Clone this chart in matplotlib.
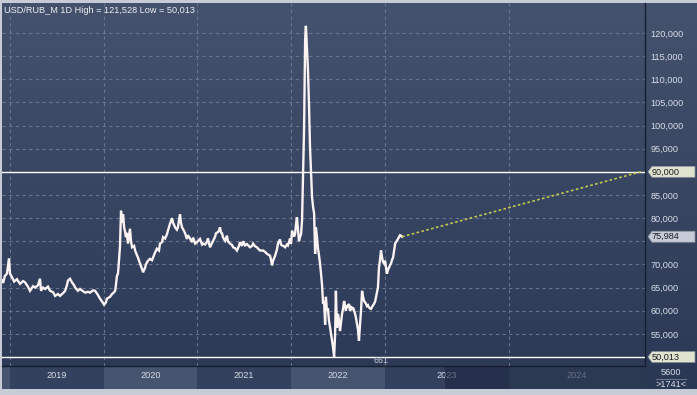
import numpy as np
import matplotlib
matplotlib.use("Agg")
import matplotlib.pyplot as plt
from matplotlib.patches import Polygon
from matplotlib.transforms import IdentityTransform
from matplotlib.colors import LinearSegmentedColormap

plt.rcParams['font.family'] = ['Liberation Sans', 'DejaVu Sans']

# ---------------- data ----------------
title_text = "USD/RUB_M 1D High = 121,528 Low = 50,013"
# days since 2019-01-01
day_offsets = [
    -31, -27, -20, -12, -4, 0, 8, 16, 27, 39, 51, 59, 70, 78, 90, 98, 109, 117, 121, 129,
    137, 148, 156, 168, 176, 187, 195, 207, 215, 222, 226, 234, 242, 250, 254, 265, 273, 285, 293, 304,
    312, 324, 332, 343, 351, 359, 367, 374, 378, 390, 398, 406, 410, 413, 417, 421, 425, 429, 433, 437,
    441, 445, 449, 452, 456, 460, 468, 472, 476, 484, 488, 495, 499, 507, 515, 519, 527, 530, 538, 546,
    554, 558, 566, 573, 581, 585, 593, 597, 605, 612, 616, 624, 632, 636, 644, 651, 655, 659, 663, 667,
    671, 679, 683, 690, 694, 702, 710, 714, 722, 729, 741, 749, 753, 761, 768, 772, 780, 788, 792, 800,
    803, 811, 815, 819, 823, 827, 831, 839, 846, 850, 858, 866, 870, 878, 885, 893, 897, 905, 909, 917,
    924, 936, 944, 948, 956, 963, 971, 975, 987, 995, 1002, 1010, 1014, 1018, 1022, 1026, 1034, 1041, 1045, 1053,
    1057, 1061, 1069, 1073, 1080, 1084, 1092, 1096, 1100, 1108, 1112, 1115, 1119, 1123, 1127, 1131, 1135, 1139, 1143, 1147,
    1151, 1154, 1158, 1162, 1166, 1170, 1174, 1178, 1182, 1186, 1190, 1193, 1197, 1201, 1205, 1209, 1213, 1217, 1221, 1225,
    1229, 1232, 1236, 1240, 1244, 1248, 1252, 1256, 1260, 1264, 1268, 1271, 1275, 1279, 1283, 1287, 1291, 1295, 1299, 1303,
    1307, 1310, 1314, 1318, 1322, 1326, 1330, 1334, 1338, 1342, 1346, 1349, 1353, 1357, 1361, 1365, 1369, 1373, 1377, 1381,
    1385, 1388, 1392, 1396, 1400, 1404, 1408, 1412, 1416, 1420, 1424, 1427, 1431, 1435, 1439, 1443, 1447, 1451, 1455, 1459,
    1463, 1466, 1470, 1474, 1478, 1482, 1486, 1490, 1494, 1498, 1502, 1505, 1509, 1513, 1517, 1521, 1525, 1529,
]
rate = [
    66.5, 66.0, 67.5, 68.0, 71.3, 68.0, 67.2, 66.3, 66.8, 65.8, 66.4, 66.1, 65.2, 64.3, 65.3, 65.0, 65.5, 66.9, 64.3, 65.0,
    64.7, 65.2, 64.3, 64.0, 63.2, 63.6, 63.2, 63.8, 64.3, 65.5, 66.5, 66.9, 66.1, 65.5, 65.0, 64.3, 64.7, 64.2, 63.9, 64.1,
    63.9, 64.4, 64.3, 63.4, 62.6, 62.0, 61.3, 61.8, 62.6, 63.0, 63.6, 64.0, 64.3, 65.5, 67.5, 68.0, 70.8, 74.0, 81.6, 79.0,
    80.8, 78.0, 77.0, 75.9, 76.8, 74.5, 77.7, 75.0, 73.7, 74.0, 73.0, 72.0, 71.5, 70.2, 69.0, 68.3, 69.3, 70.0, 70.8, 71.2,
    70.9, 71.5, 72.6, 73.4, 73.0, 74.5, 74.8, 75.9, 75.6, 76.5, 77.3, 78.8, 80.0, 79.0, 78.0, 77.5, 78.0, 79.5, 80.8, 79.0,
    78.0, 77.2, 76.7, 75.5, 76.3, 75.6, 74.8, 75.8, 74.5, 74.8, 75.5, 74.3, 74.5, 74.3, 74.8, 75.6, 73.7, 74.6, 75.1, 76.0,
    76.7, 77.0, 77.3, 78.0, 76.9, 76.7, 75.8, 75.1, 76.2, 75.0, 74.5, 74.2, 73.7, 73.5, 73.0, 74.0, 74.8, 74.0, 75.0, 74.1,
    74.4, 73.7, 74.0, 74.5, 73.9, 73.7, 73.2, 73.0, 73.0, 72.7, 72.3, 72.0, 71.9, 71.0, 69.8, 70.8, 71.9, 73.2, 74.5, 75.4,
    74.3, 74.1, 73.9, 73.7, 74.3, 74.1, 75.6, 74.5, 77.3, 76.0, 76.7, 78.5, 80.2, 77.5, 75.0, 75.9, 76.5, 79.5, 89.7, 99.6,
    118.5, 121.528, 117.0, 112.0, 104.8, 95.4, 89.7, 84.5, 82.4, 81.0, 72.3, 78.0, 76.0, 73.5, 72.0, 70.2, 68.0, 65.5, 61.5, 62.1,
    57.0, 63.0, 60.0, 60.5, 57.8, 56.5, 55.0, 53.5, 52.0, 50.013, 55.0, 64.3, 56.3, 59.3, 58.0, 55.6, 57.5, 59.3, 60.5, 62.1,
    61.0, 60.0, 61.2, 60.7, 61.5, 60.0, 61.0, 60.2, 60.7, 60.0, 59.3, 58.5, 57.2, 56.0, 53.5, 57.0, 60.0, 64.3, 63.0, 62.1,
    61.8, 61.5, 61.0, 61.2, 60.7, 60.5, 60.4, 60.8, 61.2, 61.5, 62.0, 62.8, 63.8, 65.0, 69.3, 71.0, 73.0, 71.5, 70.5, 70.2,
    70.8, 69.5, 68.0, 68.8, 69.3, 69.8, 70.2, 71.0, 71.5, 73.0, 74.5, 74.8, 75.1, 75.5, 75.9, 76.3, 76.2, 75.984,
]
year_labels = ['2019', '2020', '2021', '2022', '2023', '2024']
year_start_days = [0, 365, 731, 1096, 1461, 1826]
price_ticks = [55, 60, 65, 70, 75, 80, 85, 90, 95, 100, 105, 110, 115, 120]
level_value = 90.000
low_value = 50.013
target_day = 2192
target_value = 90.000
future_shade_day = 1648
marker_text = "661"
volume_text = "5600"
bars_text = ">1741<"

# ---------------- layout ----------------
W, H = 697, 395
DPI = 100
fig = plt.figure(figsize=(W / DPI, H / DPI), dpi=DPI, facecolor='#c6cbd5')

def fbox(x0, y0, x1, y1):
    return [x0 / W, 1 - y1 / H, (x1 - x0) / W, (y1 - y0) / H]

PLOT_L, PLOT_R, PLOT_T, PLOT_B = 2, 645, 3, 366
BAND_B = 389

# gradient background behind plot + right price panel
bg = fig.add_axes(fbox(PLOT_L, PLOT_T, W, PLOT_B), zorder=0)
grad = np.linspace(0, 1, 256).reshape(-1, 1)
cmap_bg = LinearSegmentedColormap.from_list('bg', ['#44526e', '#2c3a57'])
bg.imshow(grad, aspect='auto', cmap=cmap_bg, extent=[0, 1, 0, 1], origin='upper')
bg.set_axis_off()

ax = fig.add_axes(fbox(PLOT_L, PLOT_T, PLOT_R, PLOT_B), zorder=2)
ax.set_facecolor('none')

last_day = day_offsets[-1]
STRETCH = 1.404

def fwd(d):
    d = np.asarray(d, dtype=float)
    return np.where(d <= last_day, d, last_day + (d - last_day) * STRETCH)

def inv(u):
    u = np.asarray(u, dtype=float)
    return np.where(u <= last_day, u, last_day + (u - last_day) / STRETCH)

ax.set_xscale('function', functions=(fwd, inv))
x_left = -31.2
x_right = float(inv(2476.5))
ax.set_xlim(x_left, x_right)
ax.set_ylim(48.06, 126.46)

# tick labels hidden behind the price tags
covered = {75, 90}

grid_color = '#687590'
ax.set_xticks(year_start_days)
ax.set_yticks(price_ticks)
ax.grid(True, color=grid_color, linestyle=(0, (3, 3)), linewidth=0.8)
ax.tick_params(axis='x', length=0, labelbottom=False)
ax.yaxis.tick_right()
ax.tick_params(axis='y', length=0, pad=4, labelsize=6.6, labelcolor='#d9dde6')
ax.set_yticklabels(["" if v in covered else f"{v:.3f}".replace('.', ',') for v in price_ticks])
for s in ax.spines.values():
    s.set_visible(False)
ax.axvline(x_right, color=grid_color, linestyle=(0, (3, 3)), linewidth=0.8)
ax.spines['right'].set_visible(True)
ax.spines['right'].set_color('#161d2c')
ax.spines['right'].set_linewidth(1.0)
ax.spines['bottom'].set_visible(True)
ax.spines['bottom'].set_color('#161d2c')
ax.spines['bottom'].set_linewidth(1.0)

# level lines
ax.axhline(level_value, color='white', linewidth=1.0, zorder=3)
ax.axhline(low_value, color='white', linewidth=1.0, zorder=3)

# price line
ax.plot(day_offsets, rate, color='#fbf2f2', linewidth=1.7, zorder=4,
        solid_joinstyle='miter')
# projection
ax.plot([day_offsets[-1], target_day], [rate[-1], target_value],
        color='#c4c84c', linestyle=(0, (1.6, 1.4)), linewidth=1.2, zorder=4)

ax.text(0.003, 0.992, title_text, transform=ax.transAxes, fontsize=6.6,
        color='#eef0f4', ha='left', va='top', zorder=6)
ax.text(1416, 49.2, marker_text, fontsize=6.3, color='#c8ccd6',
        ha='left', va='center', zorder=6)

# ---------------- time axis band ----------------
band = fig.add_axes(fbox(PLOT_L, PLOT_B, PLOT_R, BAND_B), zorder=1)
band.set_xscale('function', functions=(fwd, inv))
band.set_xlim(x_left, x_right)
band.set_ylim(0, 1)
band.set_axis_off()
edges = [x_left] + year_start_days + [x_right]
light, dark = '#465470', '#34415e'
for i in range(len(edges) - 1):
    band.axvspan(edges[i], edges[i + 1], color=light if i % 2 == 0 else dark, lw=0)
for i, lab in enumerate(year_labels):
    a = year_start_days[i]
    b = year_start_days[i + 1] if i + 1 < len(year_start_days) else x_right
    mid = float(inv((fwd(a) + fwd(b)) / 2))
    band.text(mid, 0.58, lab, fontsize=6.6, color='#d6dae2', ha='center', va='center')
band.axvspan(future_shade_day, x_right, color='#1c2740', alpha=0.6, lw=0, zorder=5)

# bottom-right info box
info = fig.add_axes(fbox(PLOT_R, PLOT_B, W, BAND_B), zorder=1)
info.set_xlim(0, 1); info.set_ylim(0, 1)
info.set_facecolor('#2b3854')
info.set_xticks([]); info.set_yticks([])
for s in info.spines.values():
    s.set_visible(False)
info.text(0.5, 0.7, volume_text, fontsize=6.6, color='#d9dde6', ha='center', va='center')
info.plot([0.22, 0.78], [0.45, 0.45], color='#6e7a92', lw=0.7)
info.text(0.5, 0.2, bars_text, fontsize=6.6, color='#d9dde6', ha='center', va='center')

# ---------------- price tags ----------------
def price_tag(value, face):
    yd = ax.transData.transform((0, value))[1]
    x0 = PLOT_R + 3
    x1 = W - 2
    h = 5.5
    verts = [(x0, yd), (x0 + 4, yd + h), (x1, yd + h), (x1, yd - h), (x0 + 4, yd - h)]
    fig.add_artist(Polygon(verts, closed=True, facecolor=face, edgecolor='#8a8f98',
                           linewidth=0.5, transform=IdentityTransform(), zorder=10))
    fig.text((x0 + 4) / W, yd / H, f"{value:.3f}".replace('.', ','), fontsize=6.6,
             color='#1b1d22', ha='left', va='center', zorder=11)

price_tag(level_value, '#dfe3cf')
price_tag(rate[-1], '#c6cbd7')
price_tag(low_value, '#dfe3cf')

fig.savefig('out.png', dpi=DPI, facecolor=fig.get_facecolor())
